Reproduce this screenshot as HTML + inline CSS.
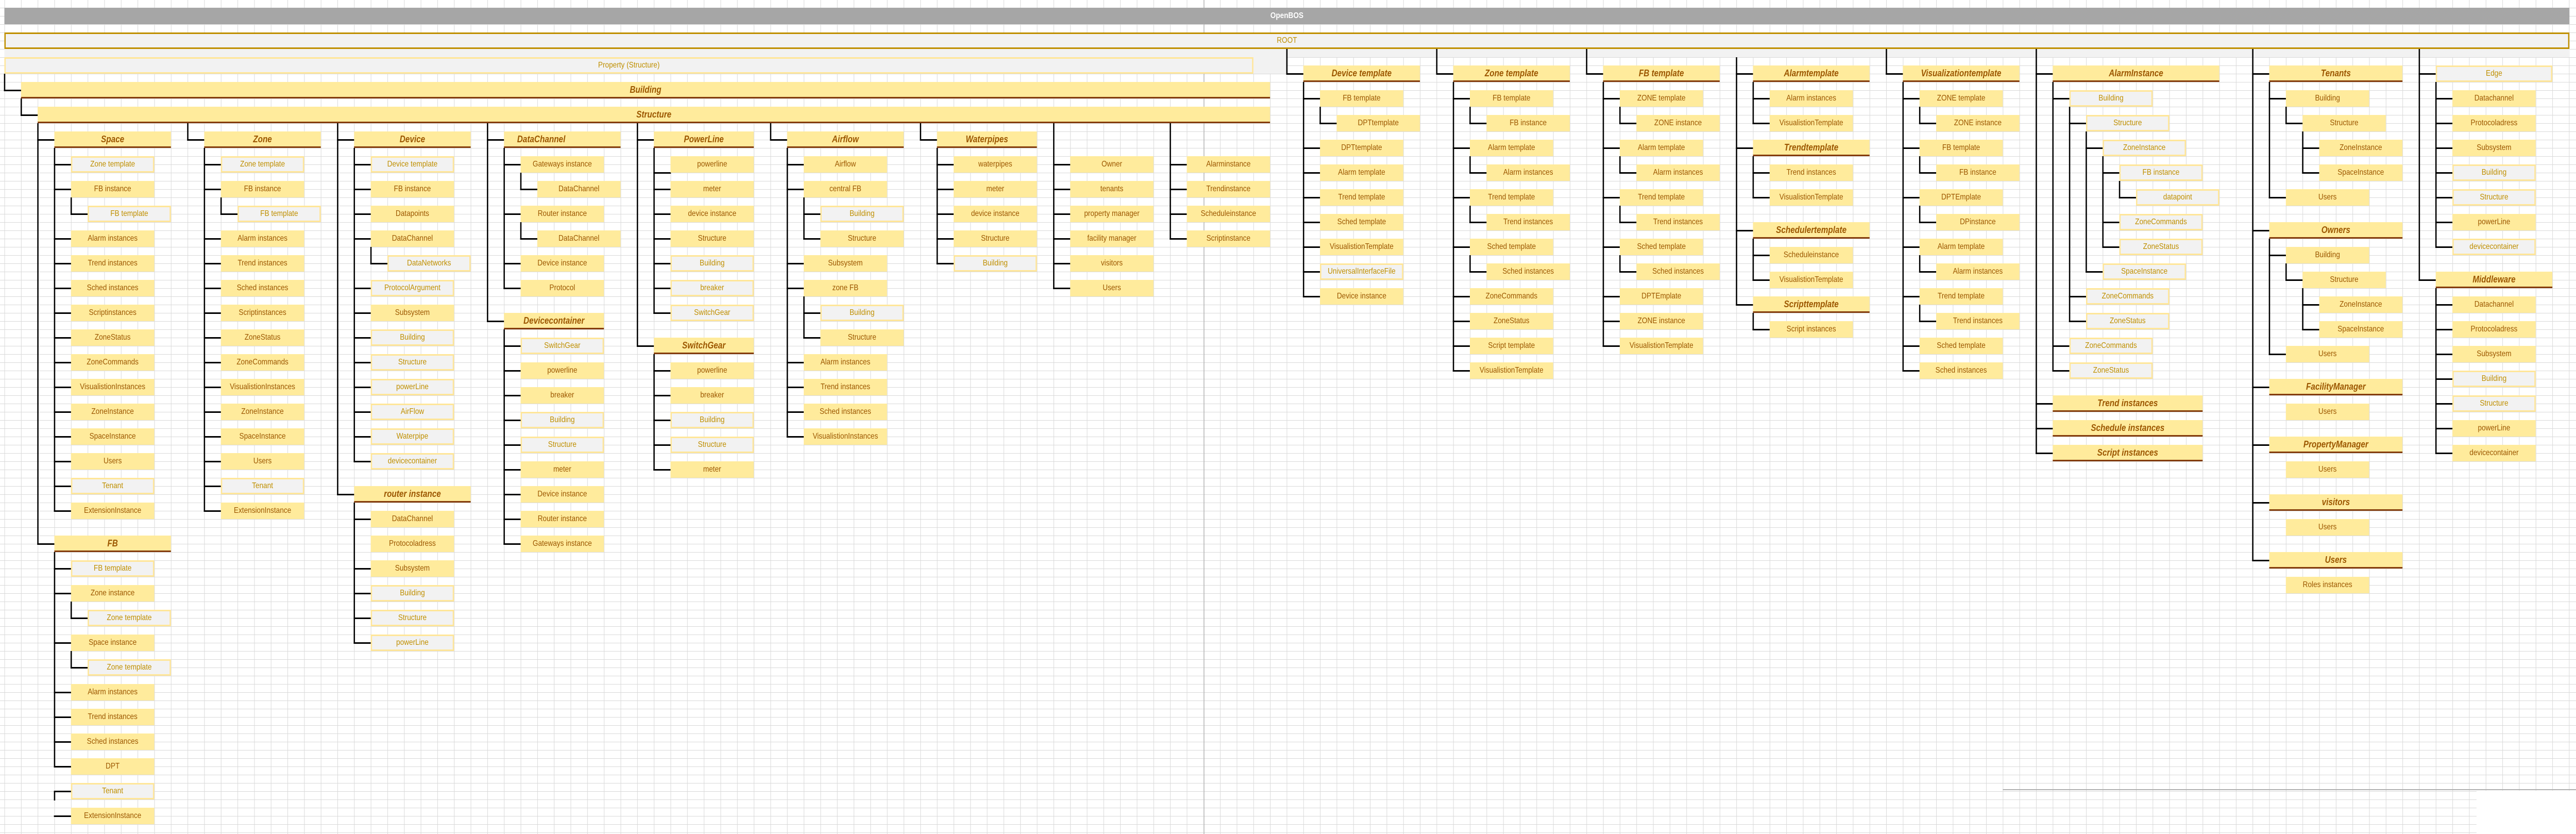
<!DOCTYPE html>
<html><head><meta charset="utf-8">
<style>
html,body{margin:0;padding:0;width:100%;height:100%;overflow:hidden;background:#fff}
#w{position:absolute;left:0;top:0;width:5878px;height:1618px;overflow:hidden;transform-origin:0 0;background-color:#fff;
background-image:linear-gradient(to right,#d9d9d9 1px,transparent 1px),linear-gradient(to bottom,#d9d9d9 1px,transparent 1px);
background-size:38px 16px;background-position:10px 15px;font-family:"Liberation Sans",sans-serif}
.n{position:absolute;left:calc(10px + var(--c)*38px);top:calc(15px + var(--r)*16px);width:calc(var(--w,5)*38px);height:32px;box-sizing:border-box;background:#FFEB9C;color:#9C5700;font-size:16px;line-height:32px;text-align:center;white-space:nowrap;overflow:hidden}
.g{background:#F2F2F2;border:3px solid #FFE699;color:#BF8F00;line-height:26px}
.h{--w:7;font-weight:bold;font-style:italic;font-size:18px;border-bottom:3px solid #843C0C;line-height:30px}
.v{position:absolute;background:#000;width:3px;left:calc(9px + var(--c)*38px);top:calc(15px + var(--r)*16px);height:calc(var(--n)*16px + 2px)}
.l{position:absolute;background:#000;height:3px;left:calc(9px + var(--c)*38px);top:calc(14px + var(--r)*16px);width:40px}
.abs{position:absolute}
</style></head><body>
<div id="w">
<div class="abs" style="left:2747px;top:0;width:1px;height:1618px;background:#9a9a9a"></div>
<div class="abs" style="left:4570px;top:1531px;width:1308px;height:2px;background:#b0b0b0"></div>
<div class="abs" style="left:5651px;top:1534px;width:227px;height:84px;background:#fff"></div>

<div class="abs" style="left:10px;top:15px;width:5853px;height:32px;background:#A6A6A6;color:#fff;font-weight:bold;font-size:16px;line-height:32px;text-align:center">OpenBOS</div>
<div class="abs" style="left:10px;top:95px;width:5853px;height:16px;background:#F2F2F2"></div>
<div class="abs" style="left:10px;top:63px;width:5853px;height:32px;box-sizing:border-box;background:#F2F2F2;border:3px solid #BF8F00;color:#BF8F00;font-size:16px;line-height:26px;text-align:center">ROOT</div>
<div class="abs" style="left:2860px;top:111px;width:76px;height:32px;background:#F2F2F2"></div>

<div class="v" style="--c:0;--r:8;--n:2"></div><div class="l" style="--c:0;--r:10"></div>
<div class="v" style="--c:1;--r:11;--n:2"></div><div class="l" style="--c:1;--r:13"></div>
<div class="v" style="--c:2;--r:14;--n:51"></div><div class="l" style="--c:2;--r:16"></div><div class="l" style="--c:2;--r:65"></div>
<div class="v" style="--c:11;--r:14;--n:2"></div><div class="l" style="--c:11;--r:16"></div>
<div class="v" style="--c:20;--r:14;--n:45"></div><div class="l" style="--c:20;--r:16"></div><div class="l" style="--c:20;--r:59"></div>
<div class="v" style="--c:29;--r:14;--n:24"></div><div class="l" style="--c:29;--r:16"></div><div class="l" style="--c:29;--r:38"></div>
<div class="v" style="--c:38;--r:14;--n:27"></div><div class="l" style="--c:38;--r:16"></div><div class="l" style="--c:38;--r:41"></div>
<div class="v" style="--c:46;--r:14;--n:2"></div><div class="l" style="--c:46;--r:16"></div>
<div class="v" style="--c:55;--r:14;--n:2"></div><div class="l" style="--c:55;--r:16"></div>
<div class="v" style="--c:63;--r:14;--n:20"></div>
<div class="l" style="--c:63;--r:19"></div><div class="l" style="--c:63;--r:22"></div><div class="l" style="--c:63;--r:25"></div><div class="l" style="--c:63;--r:28"></div><div class="l" style="--c:63;--r:31"></div><div class="l" style="--c:63;--r:34"></div>
<div class="v" style="--c:70;--r:14;--n:14"></div>
<div class="l" style="--c:70;--r:19"></div><div class="l" style="--c:70;--r:22"></div><div class="l" style="--c:70;--r:25"></div><div class="l" style="--c:70;--r:28"></div>

<div class="v" style="--c:77;--r:5;--n:3"></div><div class="l" style="--c:77;--r:8"></div>
<div class="v" style="--c:86;--r:5;--n:3"></div><div class="l" style="--c:86;--r:8"></div>
<div class="v" style="--c:95;--r:5;--n:3"></div><div class="l" style="--c:95;--r:8"></div>
<div class="v" style="--c:104;--r:6;--n:30"></div><div class="l" style="--c:104;--r:8"></div><div class="l" style="--c:104;--r:17"></div><div class="l" style="--c:104;--r:27"></div><div class="l" style="--c:104;--r:36"></div>
<div class="v" style="--c:113;--r:5;--n:3"></div><div class="l" style="--c:113;--r:8"></div>
<div class="v" style="--c:122;--r:5;--n:49"></div><div class="l" style="--c:122;--r:8"></div><div class="l" style="--c:122;--r:48"></div><div class="l" style="--c:122;--r:51"></div><div class="l" style="--c:122;--r:54"></div>
<div class="v" style="--c:135;--r:5;--n:62"></div><div class="l" style="--c:135;--r:8"></div><div class="l" style="--c:135;--r:27"></div><div class="l" style="--c:135;--r:46"></div><div class="l" style="--c:135;--r:53"></div><div class="l" style="--c:135;--r:60"></div><div class="l" style="--c:135;--r:67"></div>
<div class="v" style="--c:145;--r:5;--n:28"></div><div class="l" style="--c:145;--r:8"></div><div class="l" style="--c:145;--r:33"></div>

<div class="n g" style="--c:0;--r:6;--w:75">Property (Structure)</div>
<div class="n h" style="--c:1;--r:9;--w:75">Building</div>
<div class="n h" style="--c:2;--r:12;--w:74">Structure</div>

<div class="v" style="--c:3;--r:17;--n:44"></div>
<div class="l" style="--c:3;--r:19"></div><div class="l" style="--c:3;--r:22"></div><div class="l" style="--c:3;--r:28"></div><div class="l" style="--c:3;--r:31"></div><div class="l" style="--c:3;--r:34"></div><div class="l" style="--c:3;--r:37"></div><div class="l" style="--c:3;--r:40"></div><div class="l" style="--c:3;--r:43"></div><div class="l" style="--c:3;--r:46"></div><div class="l" style="--c:3;--r:49"></div><div class="l" style="--c:3;--r:52"></div><div class="l" style="--c:3;--r:55"></div><div class="l" style="--c:3;--r:58"></div><div class="l" style="--c:3;--r:61"></div>
<div class="v" style="--c:4;--r:23;--n:2"></div><div class="l" style="--c:4;--r:25"></div>
<div class="n h" style="--c:3;--r:15">Space</div>
<div class="n g" style="--c:4;--r:18">Zone template</div>
<div class="n" style="--c:4;--r:21">FB instance</div>
<div class="n g" style="--c:5;--r:24">FB template</div>
<div class="n" style="--c:4;--r:27">Alarm instances</div>
<div class="n" style="--c:4;--r:30">Trend instances</div>
<div class="n" style="--c:4;--r:33">Sched instances</div>
<div class="n" style="--c:4;--r:36">Scriptinstances</div>
<div class="n" style="--c:4;--r:39">ZoneStatus</div>
<div class="n" style="--c:4;--r:42">ZoneCommands</div>
<div class="n" style="--c:4;--r:45">VisualistionInstances</div>
<div class="n" style="--c:4;--r:48">ZoneInstance</div>
<div class="n" style="--c:4;--r:51">SpaceInstance</div>
<div class="n" style="--c:4;--r:54">Users</div>
<div class="n g" style="--c:4;--r:57">Tenant</div>
<div class="n" style="--c:4;--r:60">ExtensionInstance</div>

<div class="v" style="--c:3;--r:66;--n:26"></div>
<div class="l" style="--c:3;--r:68"></div><div class="l" style="--c:3;--r:71"></div><div class="l" style="--c:3;--r:77"></div><div class="l" style="--c:3;--r:83"></div><div class="l" style="--c:3;--r:86"></div><div class="l" style="--c:3;--r:89"></div><div class="l" style="--c:3;--r:92"></div><div class="l" style="--c:3;--r:95"></div><div class="l" style="--c:3;--r:98"></div>
<div class="v" style="--c:3;--r:95;--n:1"></div>
<div class="v" style="--c:4;--r:72;--n:2"></div><div class="l" style="--c:4;--r:74"></div>
<div class="v" style="--c:4;--r:78;--n:2"></div><div class="l" style="--c:4;--r:80"></div>
<div class="n h" style="--c:3;--r:64">FB</div>
<div class="n g" style="--c:4;--r:67">FB template</div>
<div class="n" style="--c:4;--r:70">Zone instance</div>
<div class="n g" style="--c:5;--r:73">Zone template</div>
<div class="n" style="--c:4;--r:76">Space instance</div>
<div class="n g" style="--c:5;--r:79">Zone template</div>
<div class="n" style="--c:4;--r:82">Alarm instances</div>
<div class="n" style="--c:4;--r:85">Trend instances</div>
<div class="n" style="--c:4;--r:88">Sched instances</div>
<div class="n" style="--c:4;--r:91">DPT</div>
<div class="n g" style="--c:4;--r:94">Tenant</div>
<div class="n" style="--c:4;--r:97">ExtensionInstance</div>

<div class="v" style="--c:12;--r:17;--n:44"></div>
<div class="l" style="--c:12;--r:19"></div><div class="l" style="--c:12;--r:22"></div><div class="l" style="--c:12;--r:28"></div><div class="l" style="--c:12;--r:31"></div><div class="l" style="--c:12;--r:34"></div><div class="l" style="--c:12;--r:37"></div><div class="l" style="--c:12;--r:40"></div><div class="l" style="--c:12;--r:43"></div><div class="l" style="--c:12;--r:46"></div><div class="l" style="--c:12;--r:49"></div><div class="l" style="--c:12;--r:52"></div><div class="l" style="--c:12;--r:55"></div><div class="l" style="--c:12;--r:58"></div><div class="l" style="--c:12;--r:61"></div>
<div class="v" style="--c:13;--r:23;--n:2"></div><div class="l" style="--c:13;--r:25"></div>
<div class="n h" style="--c:12;--r:15">Zone</div>
<div class="n g" style="--c:13;--r:18">Zone template</div>
<div class="n" style="--c:13;--r:21">FB instance</div>
<div class="n g" style="--c:14;--r:24">FB template</div>
<div class="n" style="--c:13;--r:27">Alarm instances</div>
<div class="n" style="--c:13;--r:30">Trend instances</div>
<div class="n" style="--c:13;--r:33">Sched instances</div>
<div class="n" style="--c:13;--r:36">Scriptinstances</div>
<div class="n" style="--c:13;--r:39">ZoneStatus</div>
<div class="n" style="--c:13;--r:42">ZoneCommands</div>
<div class="n" style="--c:13;--r:45">VisualistionInstances</div>
<div class="n" style="--c:13;--r:48">ZoneInstance</div>
<div class="n" style="--c:13;--r:51">SpaceInstance</div>
<div class="n" style="--c:13;--r:54">Users</div>
<div class="n g" style="--c:13;--r:57">Tenant</div>
<div class="n" style="--c:13;--r:60">ExtensionInstance</div>

<div class="v" style="--c:21;--r:17;--n:38"></div>
<div class="l" style="--c:21;--r:19"></div><div class="l" style="--c:21;--r:22"></div><div class="l" style="--c:21;--r:25"></div><div class="l" style="--c:21;--r:28"></div><div class="l" style="--c:21;--r:34"></div><div class="l" style="--c:21;--r:37"></div><div class="l" style="--c:21;--r:40"></div><div class="l" style="--c:21;--r:43"></div><div class="l" style="--c:21;--r:46"></div><div class="l" style="--c:21;--r:49"></div><div class="l" style="--c:21;--r:52"></div><div class="l" style="--c:21;--r:55"></div>
<div class="v" style="--c:22;--r:29;--n:2"></div><div class="l" style="--c:22;--r:31"></div>
<div class="n h" style="--c:21;--r:15">Device</div>
<div class="n g" style="--c:22;--r:18">Device template</div>
<div class="n" style="--c:22;--r:21">FB instance</div>
<div class="n" style="--c:22;--r:24">Datapoints</div>
<div class="n" style="--c:22;--r:27">DataChannel</div>
<div class="n g" style="--c:23;--r:30">DataNetworks</div>
<div class="n g" style="--c:22;--r:33">ProtocolArgument</div>
<div class="n" style="--c:22;--r:36">Subsystem</div>
<div class="n g" style="--c:22;--r:39">Building</div>
<div class="n g" style="--c:22;--r:42">Structure</div>
<div class="n g" style="--c:22;--r:45">powerLine</div>
<div class="n g" style="--c:22;--r:48">AirFlow</div>
<div class="n g" style="--c:22;--r:51">Waterpipe</div>
<div class="n g" style="--c:22;--r:54">devicecontainer</div>
<div class="v" style="--c:21;--r:60;--n:17"></div>
<div class="l" style="--c:21;--r:62"></div><div class="l" style="--c:21;--r:68"></div><div class="l" style="--c:21;--r:71"></div><div class="l" style="--c:21;--r:74"></div><div class="l" style="--c:21;--r:77"></div>
<div class="n h" style="--c:21;--r:58">router instance</div>
<div class="n" style="--c:22;--r:61">DataChannel</div>
<div class="n" style="--c:22;--r:64">Protocoladress</div>
<div class="n" style="--c:22;--r:67">Subsystem</div>
<div class="n g" style="--c:22;--r:70">Building</div>
<div class="n g" style="--c:22;--r:73">Structure</div>
<div class="n g" style="--c:22;--r:76">powerLine</div>

<div class="v" style="--c:30;--r:17;--n:17"></div>
<div class="l" style="--c:30;--r:19"></div><div class="l" style="--c:30;--r:25"></div><div class="l" style="--c:30;--r:31"></div><div class="l" style="--c:30;--r:34"></div>
<div class="v" style="--c:31;--r:20;--n:2"></div><div class="l" style="--c:31;--r:22"></div>
<div class="v" style="--c:31;--r:26;--n:2"></div><div class="l" style="--c:31;--r:28"></div>
<div class="n h" style="--c:30;--r:15;text-align:left;padding-left:30px">DataChannel</div>
<div class="n" style="--c:31;--r:18">Gateways instance</div>
<div class="n" style="--c:32;--r:21">DataChannel</div>
<div class="n" style="--c:31;--r:24">Router instance</div>
<div class="n" style="--c:32;--r:27">DataChannel</div>
<div class="n" style="--c:31;--r:30">Device instance</div>
<div class="n" style="--c:31;--r:33">Protocol</div>
<div class="v" style="--c:30;--r:39;--n:26"></div>
<div class="l" style="--c:30;--r:41"></div><div class="l" style="--c:30;--r:44"></div><div class="l" style="--c:30;--r:47"></div><div class="l" style="--c:30;--r:50"></div><div class="l" style="--c:30;--r:53"></div><div class="l" style="--c:30;--r:56"></div><div class="l" style="--c:30;--r:59"></div><div class="l" style="--c:30;--r:62"></div><div class="l" style="--c:30;--r:65"></div>
<div class="n h" style="--c:30;--r:37;--w:6">Devicecontainer</div>
<div class="n g" style="--c:31;--r:40">SwitchGear</div>
<div class="n" style="--c:31;--r:43">powerline</div>
<div class="n" style="--c:31;--r:46">breaker</div>
<div class="n g" style="--c:31;--r:49">Building</div>
<div class="n g" style="--c:31;--r:52">Structure</div>
<div class="n" style="--c:31;--r:55">meter</div>
<div class="n" style="--c:31;--r:58">Device instance</div>
<div class="n" style="--c:31;--r:61">Router instance</div>
<div class="n" style="--c:31;--r:64">Gateways instance</div>

<div class="v" style="--c:39;--r:17;--n:20"></div>
<div class="l" style="--c:39;--r:20"></div><div class="l" style="--c:39;--r:22"></div><div class="l" style="--c:39;--r:25"></div><div class="l" style="--c:39;--r:28"></div><div class="l" style="--c:39;--r:31"></div><div class="l" style="--c:39;--r:34"></div><div class="l" style="--c:39;--r:37"></div>
<div class="n h" style="--c:39;--r:15;--w:6">PowerLine</div>
<div class="n" style="--c:40;--r:18">powerline</div>
<div class="n" style="--c:40;--r:21">meter</div>
<div class="n" style="--c:40;--r:24">device instance</div>
<div class="n" style="--c:40;--r:27">Structure</div>
<div class="n g" style="--c:40;--r:30">Building</div>
<div class="n g" style="--c:40;--r:33">breaker</div>
<div class="n g" style="--c:40;--r:36">SwitchGear</div>
<div class="v" style="--c:39;--r:42;--n:14"></div>
<div class="l" style="--c:39;--r:44"></div><div class="l" style="--c:39;--r:47"></div><div class="l" style="--c:39;--r:50"></div><div class="l" style="--c:39;--r:53"></div><div class="l" style="--c:39;--r:56"></div>
<div class="n h" style="--c:39;--r:40;--w:6">SwitchGear</div>
<div class="n" style="--c:40;--r:43">powerline</div>
<div class="n" style="--c:40;--r:46">breaker</div>
<div class="n g" style="--c:40;--r:49">Building</div>
<div class="n g" style="--c:40;--r:52">Structure</div>
<div class="n" style="--c:40;--r:55">meter</div>

<div class="v" style="--c:47;--r:17;--n:35"></div>
<div class="l" style="--c:47;--r:19"></div><div class="l" style="--c:47;--r:22"></div><div class="l" style="--c:47;--r:31"></div><div class="l" style="--c:47;--r:34"></div><div class="l" style="--c:47;--r:43"></div><div class="l" style="--c:47;--r:46"></div><div class="l" style="--c:47;--r:49"></div><div class="l" style="--c:47;--r:52"></div>
<div class="v" style="--c:48;--r:23;--n:5"></div><div class="l" style="--c:48;--r:25"></div><div class="l" style="--c:48;--r:28"></div>
<div class="v" style="--c:48;--r:35;--n:5"></div><div class="l" style="--c:48;--r:37"></div><div class="l" style="--c:48;--r:40"></div>
<div class="n h" style="--c:47;--r:15">Airflow</div>
<div class="n" style="--c:48;--r:18">Airflow</div>
<div class="n" style="--c:48;--r:21">central FB</div>
<div class="n g" style="--c:49;--r:24">Building</div>
<div class="n" style="--c:49;--r:27">Structure</div>
<div class="n" style="--c:48;--r:30">Subsystem</div>
<div class="n" style="--c:48;--r:33">zone FB</div>
<div class="n g" style="--c:49;--r:36">Building</div>
<div class="n" style="--c:49;--r:39">Structure</div>
<div class="n" style="--c:48;--r:42">Alarm instances</div>
<div class="n" style="--c:48;--r:45">Trend instances</div>
<div class="n" style="--c:48;--r:48">Sched instances</div>
<div class="n" style="--c:48;--r:51">VisualistionInstances</div>

<div class="v" style="--c:56;--r:17;--n:14"></div>
<div class="l" style="--c:56;--r:19"></div><div class="l" style="--c:56;--r:22"></div><div class="l" style="--c:56;--r:25"></div><div class="l" style="--c:56;--r:28"></div><div class="l" style="--c:56;--r:31"></div>
<div class="n h" style="--c:56;--r:15;--w:6">Waterpipes</div>
<div class="n" style="--c:57;--r:18">waterpipes</div>
<div class="n" style="--c:57;--r:21">meter</div>
<div class="n" style="--c:57;--r:24">device instance</div>
<div class="n" style="--c:57;--r:27">Structure</div>
<div class="n g" style="--c:57;--r:30">Building</div>

<div class="n" style="--c:64;--r:18">Owner</div>
<div class="n" style="--c:64;--r:21">tenants</div>
<div class="n" style="--c:64;--r:24">property manager</div>
<div class="n" style="--c:64;--r:27">facility manager</div>
<div class="n" style="--c:64;--r:30">visitors</div>
<div class="n" style="--c:64;--r:33">Users</div>
<div class="n" style="--c:71;--r:18">Alarminstance</div>
<div class="n" style="--c:71;--r:21">Trendinstance</div>
<div class="n" style="--c:71;--r:24">Scheduleinstance</div>
<div class="n" style="--c:71;--r:27">Scriptinstance</div>

<div class="v" style="--c:78;--r:9;--n:26"></div>
<div class="l" style="--c:78;--r:11"></div><div class="l" style="--c:78;--r:17"></div><div class="l" style="--c:78;--r:20"></div><div class="l" style="--c:78;--r:23"></div><div class="l" style="--c:78;--r:26"></div><div class="l" style="--c:78;--r:29"></div><div class="l" style="--c:78;--r:32"></div><div class="l" style="--c:78;--r:35"></div>
<div class="v" style="--c:79;--r:12;--n:2"></div><div class="l" style="--c:79;--r:14"></div>
<div class="n h" style="--c:78;--r:7">Device template</div>
<div class="n" style="--c:79;--r:10">FB template</div>
<div class="n" style="--c:80;--r:13">DPTtemplate</div>
<div class="n" style="--c:79;--r:16">DPTtemplate</div>
<div class="n" style="--c:79;--r:19">Alarm template</div>
<div class="n" style="--c:79;--r:22">Trend template</div>
<div class="n" style="--c:79;--r:25">Sched template</div>
<div class="n" style="--c:79;--r:28">VisualistionTemplate</div>
<div class="n g" style="--c:79;--r:31">UniversalInterfaceFile</div>
<div class="n" style="--c:79;--r:34">Device instance</div>

<div class="v" style="--c:87;--r:9;--n:35"></div>
<div class="l" style="--c:87;--r:11"></div><div class="l" style="--c:87;--r:17"></div><div class="l" style="--c:87;--r:23"></div><div class="l" style="--c:87;--r:29"></div><div class="l" style="--c:87;--r:35"></div><div class="l" style="--c:87;--r:38"></div><div class="l" style="--c:87;--r:41"></div><div class="l" style="--c:87;--r:44"></div>
<div class="v" style="--c:88;--r:12;--n:2"></div><div class="l" style="--c:88;--r:14"></div>
<div class="v" style="--c:88;--r:18;--n:2"></div><div class="l" style="--c:88;--r:20"></div>
<div class="v" style="--c:88;--r:24;--n:2"></div><div class="l" style="--c:88;--r:26"></div>
<div class="v" style="--c:88;--r:30;--n:2"></div><div class="l" style="--c:88;--r:32"></div>
<div class="n h" style="--c:87;--r:7">Zone template</div>
<div class="n" style="--c:88;--r:10">FB template</div>
<div class="n" style="--c:89;--r:13">FB instance</div>
<div class="n" style="--c:88;--r:16">Alarm template</div>
<div class="n" style="--c:89;--r:19">Alarm instances</div>
<div class="n" style="--c:88;--r:22">Trend template</div>
<div class="n" style="--c:89;--r:25">Trend instances</div>
<div class="n" style="--c:88;--r:28">Sched template</div>
<div class="n" style="--c:89;--r:31">Sched instances</div>
<div class="n" style="--c:88;--r:34">ZoneCommands</div>
<div class="n" style="--c:88;--r:37">ZoneStatus</div>
<div class="n" style="--c:88;--r:40">Script template</div>
<div class="n" style="--c:88;--r:43">VisualistionTemplate</div>

<div class="v" style="--c:96;--r:9;--n:32"></div>
<div class="l" style="--c:96;--r:11"></div><div class="l" style="--c:96;--r:17"></div><div class="l" style="--c:96;--r:23"></div><div class="l" style="--c:96;--r:29"></div><div class="l" style="--c:96;--r:35"></div><div class="l" style="--c:96;--r:38"></div><div class="l" style="--c:96;--r:41"></div>
<div class="v" style="--c:97;--r:12;--n:2"></div><div class="l" style="--c:97;--r:14"></div>
<div class="v" style="--c:97;--r:18;--n:2"></div><div class="l" style="--c:97;--r:20"></div>
<div class="v" style="--c:97;--r:24;--n:2"></div><div class="l" style="--c:97;--r:26"></div>
<div class="v" style="--c:97;--r:30;--n:2"></div><div class="l" style="--c:97;--r:32"></div>
<div class="n h" style="--c:96;--r:7">FB template</div>
<div class="n" style="--c:97;--r:10">ZONE template</div>
<div class="n" style="--c:98;--r:13">ZONE instance</div>
<div class="n" style="--c:97;--r:16">Alarm template</div>
<div class="n" style="--c:98;--r:19">Alarm instances</div>
<div class="n" style="--c:97;--r:22">Trend template</div>
<div class="n" style="--c:98;--r:25">Trend instances</div>
<div class="n" style="--c:97;--r:28">Sched template</div>
<div class="n" style="--c:98;--r:31">Sched instances</div>
<div class="n" style="--c:97;--r:34">DPTEmplate</div>
<div class="n" style="--c:97;--r:37">ZONE instance</div>
<div class="n" style="--c:97;--r:40">VisualistionTemplate</div>

<div class="v" style="--c:105;--r:9;--n:5"></div><div class="l" style="--c:105;--r:11"></div><div class="l" style="--c:105;--r:14"></div>
<div class="v" style="--c:105;--r:18;--n:5"></div><div class="l" style="--c:105;--r:20"></div><div class="l" style="--c:105;--r:23"></div>
<div class="v" style="--c:105;--r:28;--n:5"></div><div class="l" style="--c:105;--r:30"></div><div class="l" style="--c:105;--r:33"></div>
<div class="v" style="--c:105;--r:37;--n:2"></div><div class="l" style="--c:105;--r:39"></div>
<div class="n h" style="--c:105;--r:7">Alarmtemplate</div>
<div class="n" style="--c:106;--r:10">Alarm instances</div>
<div class="n" style="--c:106;--r:13">VisualistionTemplate</div>
<div class="n h" style="--c:105;--r:16">Trendtemplate</div>
<div class="n" style="--c:106;--r:19">Trend instances</div>
<div class="n" style="--c:106;--r:22">VisualistionTemplate</div>
<div class="n h" style="--c:105;--r:26">Schedulertemplate</div>
<div class="n" style="--c:106;--r:29">Scheduleinstance</div>
<div class="n" style="--c:106;--r:32">VisualistionTemplate</div>
<div class="n h" style="--c:105;--r:35">Scripttemplate</div>
<div class="n" style="--c:106;--r:38">Script instances</div>

<div class="v" style="--c:114;--r:9;--n:35"></div>
<div class="l" style="--c:114;--r:11"></div><div class="l" style="--c:114;--r:17"></div><div class="l" style="--c:114;--r:23"></div><div class="l" style="--c:114;--r:29"></div><div class="l" style="--c:114;--r:35"></div><div class="l" style="--c:114;--r:41"></div><div class="l" style="--c:114;--r:44"></div>
<div class="v" style="--c:115;--r:12;--n:2"></div><div class="l" style="--c:115;--r:14"></div>
<div class="v" style="--c:115;--r:18;--n:2"></div><div class="l" style="--c:115;--r:20"></div>
<div class="v" style="--c:115;--r:24;--n:2"></div><div class="l" style="--c:115;--r:26"></div>
<div class="v" style="--c:115;--r:30;--n:2"></div><div class="l" style="--c:115;--r:32"></div>
<div class="v" style="--c:115;--r:36;--n:2"></div><div class="l" style="--c:115;--r:38"></div>
<div class="n h" style="--c:114;--r:7">Visualizationtemplate</div>
<div class="n" style="--c:115;--r:10">ZONE template</div>
<div class="n" style="--c:116;--r:13">ZONE instance</div>
<div class="n" style="--c:115;--r:16">FB template</div>
<div class="n" style="--c:116;--r:19">FB instance</div>
<div class="n" style="--c:115;--r:22">DPTEmplate</div>
<div class="n" style="--c:116;--r:25">DPinstance</div>
<div class="n" style="--c:115;--r:28">Alarm template</div>
<div class="n" style="--c:116;--r:31">Alarm instances</div>
<div class="n" style="--c:115;--r:34">Trend template</div>
<div class="n" style="--c:116;--r:37">Trend instances</div>
<div class="n" style="--c:115;--r:40">Sched template</div>
<div class="n" style="--c:115;--r:43">Sched instances</div>

<div class="v" style="--c:123;--r:9;--n:35"></div><div class="l" style="--c:123;--r:11"></div><div class="l" style="--c:123;--r:41"></div><div class="l" style="--c:123;--r:44"></div>
<div class="v" style="--c:124;--r:12;--n:26"></div><div class="l" style="--c:124;--r:14"></div><div class="l" style="--c:124;--r:35"></div><div class="l" style="--c:124;--r:38"></div>
<div class="v" style="--c:125;--r:15;--n:17"></div><div class="l" style="--c:125;--r:17"></div><div class="l" style="--c:125;--r:32"></div>
<div class="v" style="--c:126;--r:18;--n:11"></div><div class="l" style="--c:126;--r:20"></div><div class="l" style="--c:126;--r:26"></div><div class="l" style="--c:126;--r:29"></div>
<div class="v" style="--c:127;--r:21;--n:2"></div><div class="l" style="--c:127;--r:23"></div>
<div class="n h" style="--c:123;--r:7;--w:10">AlarmInstance</div>
<div class="n g" style="--c:124;--r:10">Building</div>
<div class="n g" style="--c:125;--r:13">Structure</div>
<div class="n g" style="--c:126;--r:16">ZoneInstance</div>
<div class="n g" style="--c:127;--r:19">FB instance</div>
<div class="n g" style="--c:128;--r:22">datapoint</div>
<div class="n g" style="--c:127;--r:25">ZoneCommands</div>
<div class="n g" style="--c:127;--r:28">ZoneStatus</div>
<div class="n g" style="--c:126;--r:31">SpaceInstance</div>
<div class="n g" style="--c:125;--r:34">ZoneCommands</div>
<div class="n g" style="--c:125;--r:37">ZoneStatus</div>
<div class="n g" style="--c:124;--r:40">ZoneCommands</div>
<div class="n g" style="--c:124;--r:43">ZoneStatus</div>
<div class="n h" style="--c:123;--r:47;--w:9">Trend instances</div>
<div class="n h" style="--c:123;--r:50;--w:9">Schedule instances</div>
<div class="n h" style="--c:123;--r:53;--w:9">Script instances</div>

<div class="v" style="--c:136;--r:9;--n:14"></div><div class="l" style="--c:136;--r:11"></div><div class="l" style="--c:136;--r:23"></div>
<div class="v" style="--c:137;--r:12;--n:2"></div><div class="l" style="--c:137;--r:14"></div>
<div class="v" style="--c:138;--r:15;--n:5"></div><div class="l" style="--c:138;--r:17"></div><div class="l" style="--c:138;--r:20"></div>
<div class="n h" style="--c:136;--r:7;--w:8">Tenants</div>
<div class="n" style="--c:137;--r:10">Building</div>
<div class="n" style="--c:138;--r:13">Structure</div>
<div class="n" style="--c:139;--r:16">ZoneInstance</div>
<div class="n" style="--c:139;--r:19">SpaceInstance</div>
<div class="n" style="--c:137;--r:22">Users</div>
<div class="v" style="--c:136;--r:28;--n:14"></div><div class="l" style="--c:136;--r:30"></div><div class="l" style="--c:136;--r:42"></div>
<div class="v" style="--c:137;--r:31;--n:2"></div><div class="l" style="--c:137;--r:33"></div>
<div class="v" style="--c:138;--r:34;--n:5"></div><div class="l" style="--c:138;--r:36"></div><div class="l" style="--c:138;--r:39"></div>
<div class="n h" style="--c:136;--r:26;--w:8">Owners</div>
<div class="n" style="--c:137;--r:29">Building</div>
<div class="n" style="--c:138;--r:32">Structure</div>
<div class="n" style="--c:139;--r:35">ZoneInstance</div>
<div class="n" style="--c:139;--r:38">SpaceInstance</div>
<div class="n" style="--c:137;--r:41">Users</div>
<div class="n h" style="--c:136;--r:45;--w:8">FacilityManager</div>
<div class="n" style="--c:137;--r:48">Users</div>
<div class="n h" style="--c:136;--r:52;--w:8">PropertyManager</div>
<div class="n" style="--c:137;--r:55">Users</div>
<div class="n h" style="--c:136;--r:59;--w:8">visitors</div>
<div class="n" style="--c:137;--r:62">Users</div>
<div class="n h" style="--c:136;--r:66;--w:8">Users</div>
<div class="n" style="--c:137;--r:69">Roles instances</div>

<div class="v" style="--c:146;--r:9;--n:20"></div>
<div class="l" style="--c:146;--r:11"></div><div class="l" style="--c:146;--r:14"></div><div class="l" style="--c:146;--r:17"></div><div class="l" style="--c:146;--r:20"></div><div class="l" style="--c:146;--r:23"></div><div class="l" style="--c:146;--r:26"></div><div class="l" style="--c:146;--r:29"></div>
<div class="n g" style="--c:146;--r:7;--w:7">Edge</div>
<div class="n" style="--c:147;--r:10">Datachannel</div>
<div class="n" style="--c:147;--r:13">Protocoladress</div>
<div class="n" style="--c:147;--r:16">Subsystem</div>
<div class="n g" style="--c:147;--r:19">Building</div>
<div class="n g" style="--c:147;--r:22">Structure</div>
<div class="n" style="--c:147;--r:25">powerLine</div>
<div class="n g" style="--c:147;--r:28">devicecontainer</div>
<div class="v" style="--c:146;--r:34;--n:20"></div>
<div class="l" style="--c:146;--r:36"></div><div class="l" style="--c:146;--r:39"></div><div class="l" style="--c:146;--r:42"></div><div class="l" style="--c:146;--r:45"></div><div class="l" style="--c:146;--r:48"></div><div class="l" style="--c:146;--r:51"></div><div class="l" style="--c:146;--r:54"></div>
<div class="n h" style="--c:146;--r:32">Middleware</div>
<div class="n" style="--c:147;--r:35">Datachannel</div>
<div class="n" style="--c:147;--r:38">Protocoladress</div>
<div class="n" style="--c:147;--r:41">Subsystem</div>
<div class="n g" style="--c:147;--r:44">Building</div>
<div class="n g" style="--c:147;--r:47">Structure</div>
<div class="n" style="--c:147;--r:50">powerLine</div>
<div class="n" style="--c:147;--r:53">devicecontainer</div>
</div>
<script>
(function(){
function fit(){
var w=document.getElementById('w');
var vw=window.innerWidth||document.documentElement.clientWidth||5878;
var vh=window.innerHeight||document.documentElement.clientHeight||1618;
var sx=vw/5878, sy=vh/1618;
if(Math.abs(sx-1)<0.002&&Math.abs(sy-1)<0.002){w.style.transform='none';}
else{w.style.transform='scale('+sx+','+sy+')';}
}
fit();
window.addEventListener('resize',fit);
})();
</script>
</body></html>
